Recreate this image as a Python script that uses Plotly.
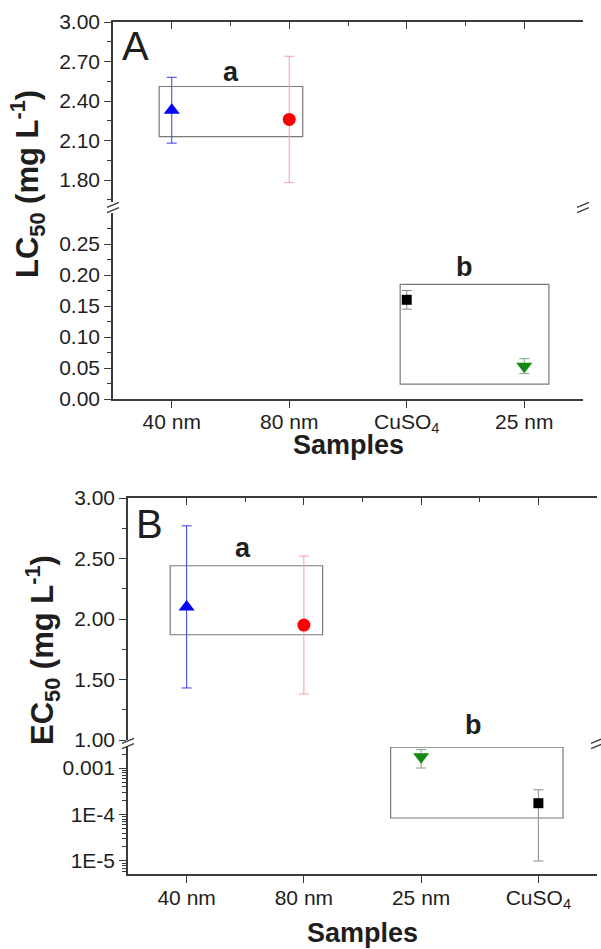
import plotly.graph_objects as go

W, H = 601, 949

# ---------------- data ----------------
lc50_categories = ["40 nm", "80 nm", "CuSO<sub>4</sub>", "25 nm"]
lc50_values = [2.33, 2.26, 0.160, 0.053]
lc50_errors = [0.25, 0.48, 0.015, 0.012]
lc50_groups = ["a", "a", "b", "b"]

ec50_categories = ["40 nm", "80 nm", "25 nm", "CuSO<sub>4</sub>"]
ec50_values = [2.10, 1.95, 1.75e-3, 1.75e-4]
ec50_errors = [0.67, 0.57, 0.75e-3, 1.65e-4]
ec50_groups = ["a", "a", "b", "b"]

lc50_upper_ticks = [1.80, 2.10, 2.40, 2.70, 3.00]
lc50_lower_ticks = [0.00, 0.05, 0.10, 0.15, 0.20, 0.25]
ec50_upper_ticks = [1.00, 1.50, 2.00, 2.50, 3.00]
ec50_lower_ticks = [1e-5, 1e-4, 1e-3]
ec50_lower_ticktext = ["1E-5", "1E-4", "0.001"]

# ---------------- styles ----------------
FONT = "Liberation Sans, Arial, sans-serif"
TXT = "#1e1e1e"
AX = "#3a3a3a"
styles = {
    "40 nm": dict(symbol="triangle-up", color="#0000ff", ecolor="#3a3af0", size=14),
    "80 nm": dict(symbol="circle", color="#ff0000", ecolor="#f2a0a0", size=13),
    "CuSO<sub>4</sub>": dict(symbol="square", color="#000000", ecolor="#8a8a8a", size=10),
    "25 nm": dict(symbol="triangle-down", color="#128a12", ecolor="#7fa87f", size=14),
}


def pxx(p):
    return p / W


def pxy(p):
    return 1 - p / H


fig = go.Figure()


def add_points(cats, vals, errs, upper_axes, lower_axes):
    for i, (c, v, e) in enumerate(zip(cats, vals, errs)):
        st = styles[c]
        xa, ya = upper_axes if v >= 1 else lower_axes
        fig.add_trace(go.Scatter(
            x=[i], y=[v], mode="markers", xaxis=xa, yaxis=ya,
            marker=dict(symbol=st["symbol"], color=st["color"], size=st["size"],
                        line=dict(width=0)),
            error_y=dict(type="data", array=[e], color=st["ecolor"], thickness=1, width=5),
            showlegend=False, cliponaxis=False,
        ))


add_points(lc50_categories, lc50_values, lc50_errors, ("x", "y"), ("x2", "y2"))
add_points(ec50_categories, ec50_values, ec50_errors, ("x3", "y5"), ("x4", "y6"))

tickfont = dict(family=FONT, size=21, color=TXT)

common_y = dict(showline=True, linecolor=AX, linewidth=1.5, showgrid=False, zeroline=False,
                ticks="outside", ticklen=7, tickwidth=1.3, tickcolor=AX, tickfont=tickfont,
                fixedrange=True, automargin=False)
common_x = dict(showline=True, linecolor=AX, linewidth=1.5, showgrid=False, zeroline=False,
                tickwidth=1.3, tickcolor=AX, tickfont=tickfont, fixedrange=True,
                automargin=False,
                range=[-0.5, 3.5], tickmode="array", tickvals=[0, 1, 2, 3])

A_x = [pxx(113), pxx(583)]
B_x = [pxx(128), pxx(597)]
A_up = [pxy(202), pxy(22)]
A_lo = [pxy(399), pxy(213)]
B_up = [pxy(740), pxy(498)]
B_lo = [pxy(874), pxy(747)]

A_up_range = [1.633, 3.0]
A_lo_range = [0.0, 0.30]
B_up_range = [1.0, 3.0]
B_lo_range = [-5.28, -2.548]

MIN_OUT = dict(ticks="outside", ticklen=4, tickwidth=1.2, tickcolor=AX, tickmode="array")
MIN_IN = dict(ticks="inside", ticklen=4, tickwidth=1.2, tickcolor=AX, tickmode="array")

A_up_minor = [1.65, 1.95, 2.25, 2.55, 2.85]
A_lo_minor = [0.025, 0.075, 0.125, 0.175, 0.225, 0.275]
B_up_minor = [1.25, 1.75, 2.25, 2.75]
log_minor_vals = [k * 10 ** ex for ex in (-6, -5, -4, -3) for k in range(2, 10)]
x_minor = [0.5, 1.5, 2.5]

fig.update_layout(
    template="none",
    width=W, height=H, autosize=False,
    margin=dict(l=0, r=0, t=0, b=0, pad=0),
    paper_bgcolor="white", plot_bgcolor="white",
    font=dict(family=FONT, color=TXT),
    showlegend=False,
    # ---- panel A ----
    xaxis=dict(common_x, domain=A_x, anchor="y", side="top", ticks="inside", ticklen=7,
               showticklabels=False, minor=dict(MIN_IN, tickvals=x_minor)),
    xaxis2=dict(common_x, domain=A_x, anchor="y2", side="bottom", ticks="outside", ticklen=7,
                ticktext=lc50_categories, ticklabelstandoff=-4),
    yaxis=dict(common_y, domain=A_up, anchor="x", range=A_up_range,
               tickmode="array", tickvals=lc50_upper_ticks,
               ticktext=[f"{v:.2f}" for v in lc50_upper_ticks],
               minor=dict(MIN_OUT, tickvals=A_up_minor)),
    yaxis2=dict(common_y, domain=A_lo, anchor="x2", range=A_lo_range,
                tickmode="array", tickvals=lc50_lower_ticks,
                ticktext=[f"{v:.2f}" for v in lc50_lower_ticks],
                minor=dict(MIN_OUT, tickvals=A_lo_minor)),
    yaxis3=dict(common_y, overlaying="y", side="right", anchor="x", range=A_up_range,
                ticks="inside", showticklabels=False,
                tickmode="array", tickvals=lc50_upper_ticks,
                minor=dict(MIN_IN, tickvals=A_up_minor)),
    yaxis4=dict(common_y, overlaying="y2", side="right", anchor="x2", range=A_lo_range,
                ticks="inside", showticklabels=False,
                tickmode="array", tickvals=lc50_lower_ticks,
                minor=dict(MIN_IN, tickvals=A_lo_minor)),
    # ---- panel B ----
    xaxis3=dict(common_x, domain=B_x, anchor="y5", side="top", ticks="inside", ticklen=7,
                showticklabels=False, minor=dict(MIN_IN, tickvals=x_minor)),
    xaxis4=dict(common_x, domain=B_x, anchor="y6", side="bottom", ticks="outside", ticklen=7,
                ticktext=ec50_categories, ticklabelstandoff=-3),
    yaxis5=dict(common_y, domain=B_up, anchor="x3", range=B_up_range,
                tickmode="array", tickvals=ec50_upper_ticks,
                ticktext=[f"{v:.2f}" for v in ec50_upper_ticks],
                minor=dict(MIN_OUT, tickvals=B_up_minor)),
    yaxis6=dict(common_y, domain=B_lo, anchor="x4", type="log", range=B_lo_range,
                tickmode="array", tickvals=ec50_lower_ticks, ticktext=ec50_lower_ticktext,
                minor=dict(MIN_OUT, tickwidth=1.0, tickvals=log_minor_vals)),
    yaxis7=dict(common_y, overlaying="y5", side="right", anchor="x3", range=B_up_range,
                ticks="inside", showticklabels=False,
                tickmode="array", tickvals=ec50_upper_ticks,
                minor=dict(MIN_IN, tickvals=B_up_minor)),
    yaxis8=dict(common_y, overlaying="y6", side="right", anchor="x4", type="log",
                range=B_lo_range, ticks="inside", showticklabels=False,
                tickmode="array", tickvals=ec50_lower_ticks,
                minor=dict(MIN_IN, tickwidth=1.0, tickvals=log_minor_vals)),
)

# ---- group boxes ----
box_line = dict(color="#7a7a7a", width=1.2)
group_boxes = [
    ("x", "y", -0.107, 1.115, 2.13, 2.51),
    ("x2", "y2", 1.944, 3.21, 0.024, 0.185),
    ("x3", "y5", -0.14, 1.16, 1.87, 2.44),
    ("x4", "y6", 1.74, 3.21, 8.4e-5, 2.8e-3),
]
for xr, yr, x0, x1, y0, y1 in group_boxes:
    fig.add_shape(type="rect", xref=xr, yref=yr, x0=x0, x1=x1, y0=y0, y1=y1,
                  line=box_line, fillcolor="rgba(0,0,0,0)", layer="below")

# ---- axis break marks ----
breaks = [(113, 207.5), (583, 207.5), (128, 743.5), (597, 743.5)]
for bx, by in breaks:
    for dy in (-2.6, 2.6):
        fig.add_shape(type="line", xref="paper", yref="paper",
                      x0=pxx(bx - 6), y0=pxy(by + dy + 2.5),
                      x1=pxx(bx + 6), y1=pxy(by + dy - 2.5),
                      line=dict(color=AX, width=1.3), layer="above")

# ---- text ----
CM = dict(xanchor="center", yanchor="middle", showarrow=False)
group_labels = [
    ("x", "y", 0.5, 2.62, "a"),
    ("x2", "y2", 2.49, 0.213, "b"),
    ("x3", "y5", 0.48, 2.585, "a"),
    ("x3", "y5", 2.45, 1.125, "b"),
]
for xr, yr, x, y, t in group_labels:
    fig.add_annotation(CM, xref=xr, yref=yr, x=x, y=y, text=f"<b>{t}</b>",
                       font=dict(family=FONT, size=27, color=TXT))

for x, y, t in [(135, 46, "A"), (149, 524, "B")]:
    fig.add_annotation(CM, xref="paper", yref="paper", x=pxx(x), y=pxy(y), text=t,
                       font=dict(family=FONT, size=40, color=TXT))

fig.add_annotation(CM, xref="paper", yref="paper", x=pxx(28), y=pxy(184), textangle=-90,
                   text="<b>LC<sub>50</sub> (mg L<sup>-1</sup>)</b>",
                   font=dict(family=FONT, size=31, color=TXT))
fig.add_annotation(CM, xref="paper", yref="paper", x=pxx(42), y=pxy(650), textangle=-90,
                   text="<b>EC<sub>50</sub> (mg L<sup>-1</sup>)</b>",
                   font=dict(family=FONT, size=31, color=TXT))
for x, y in [(348, 445), (362, 933)]:
    fig.add_annotation(CM, xref="paper", yref="paper", x=pxx(x), y=pxy(y),
                       text="<b>Samples</b>",
                       font=dict(family=FONT, size=27, color=TXT))

fig.write_html("out.html", config={"displayModeBar": False},
               post_script="document.body.style.margin='0';document.body.style.overflow='hidden';")
